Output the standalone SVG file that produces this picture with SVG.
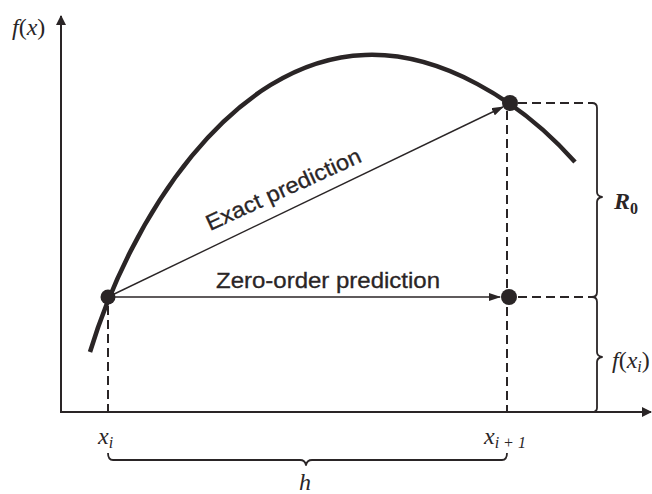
<svg xmlns="http://www.w3.org/2000/svg" width="652" height="494" viewBox="0 0 652 494">
<style>
.ax{stroke:#2a2526;stroke-width:2;fill:none}
.dash{stroke:#2a2526;stroke-width:2;fill:none;stroke-dasharray:9 5}
.thin{stroke:#2a2526;stroke-width:1.4;fill:none}
.brace{stroke:#2a2526;stroke-width:1.8;fill:none;stroke-linejoin:round}
.curve{stroke:#2a2526;stroke-width:4.5;fill:none;stroke-linecap:butt}
.pt{fill:#2a2526}
.lbl{font-family:"Liberation Sans",Arial,sans-serif;font-size:22px;fill:#2a2526;stroke:#2a2526;stroke-width:0.3}
.math{font-family:"Liberation Serif","Times New Roman",serif;font-style:italic;font-size:24px;fill:#2a2526}
.sub{font-size:16px}
</style>
<defs>
<marker id="ah" markerWidth="12" markerHeight="8" refX="11" refY="4" orient="auto" markerUnits="userSpaceOnUse">
<path d="M0,0 L12,4 L0,8 Z" fill="#2a2526"/>
</marker>
<marker id="axh" markerWidth="10" markerHeight="14" refX="9" refY="5" orient="auto" markerUnits="userSpaceOnUse">
<path d="M0,0 L10,5 L0,10 Z" fill="#2a2526"/>
</marker>
</defs>
<rect width="652" height="494" fill="#ffffff"/>

<g id="axes">
<line class="ax" x1="61" y1="412" x2="61" y2="16" marker-end="url(#axh)"/>
<line class="ax" x1="60" y1="412" x2="651" y2="412" marker-end="url(#axh)"/>
<text class="math" x="12" y="35">f<tspan font-style="normal">(</tspan>x<tspan font-style="normal">)</tspan></text>
</g>

<g id="function-curve">
<path class="curve" d="M90,352 C130,220 230,60 365,55 C440,52 520,100 575,162"/>
</g>

<g id="guides">
<line class="dash" x1="108" y1="306" x2="108" y2="412"/>
<line class="dash" x1="507" y1="111" x2="507" y2="412"/>
<line class="dash" x1="518" y1="103" x2="593" y2="103"/>
<line class="dash" x1="518" y1="297" x2="593" y2="297"/>
</g>

<g id="connectors">
<line class="thin" x1="108" y1="297" x2="503" y2="107" marker-end="url(#ah)"/>
<line class="thin" x1="115" y1="297" x2="500" y2="297" marker-end="url(#ah)"/>
</g>

<g id="point-xi">
<circle class="pt" cx="108" cy="297" r="7.5"/>
</g>
<g id="point-xi1-exact">
<circle class="pt" cx="510" cy="103" r="8"/>
</g>
<g id="point-xi1-zero">
<circle class="pt" cx="509" cy="297" r="8"/>
</g>

<g id="label-exact">
<text class="lbl" x="210" y="231" textLength="168" lengthAdjust="spacingAndGlyphs" transform="rotate(-24.5 210 231)">Exact prediction</text>
</g>
<g id="label-zero">
<text class="lbl" x="216" y="288" textLength="224" lengthAdjust="spacingAndGlyphs">Zero-order prediction</text>
</g>

<g id="brace-R0">
<path class="brace" d="M592,103 Q597,103 597,108 L597,192 Q597,196 602,197 Q597,198 597,202 L597,292 Q597,297 592,297"/>
<text class="math" x="614" y="209" font-weight="bold">R<tspan class="sub" font-style="normal" dy="5">0</tspan></text>
</g>
<g id="brace-fxi">
<path class="brace" d="M592,297 Q597,297 597,302 L597,352 Q597,356 602,357 Q597,358 597,362 L597,408 Q597,412 592,412"/>
<text class="math" x="612" y="368">f<tspan font-style="normal">(</tspan>x<tspan class="sub" dy="4">i</tspan><tspan font-style="normal" dy="-4">)</tspan></text>
</g>

<g id="label-xi">
<text class="math" x="98" y="444">x<tspan class="sub" dy="4">i</tspan></text>
</g>
<g id="label-xi1">
<text class="math" x="484" y="444">x<tspan class="sub" dy="4">i + 1</tspan></text>
</g>

<g id="brace-h">
<path class="brace" d="M108,453 Q108,460 113,460 L300,460 Q305,460 306,465 Q307,460 312,460 L502,460 Q507,460 507,453"/>
<text class="math" x="299" y="490">h</text>
</g>
</svg>
